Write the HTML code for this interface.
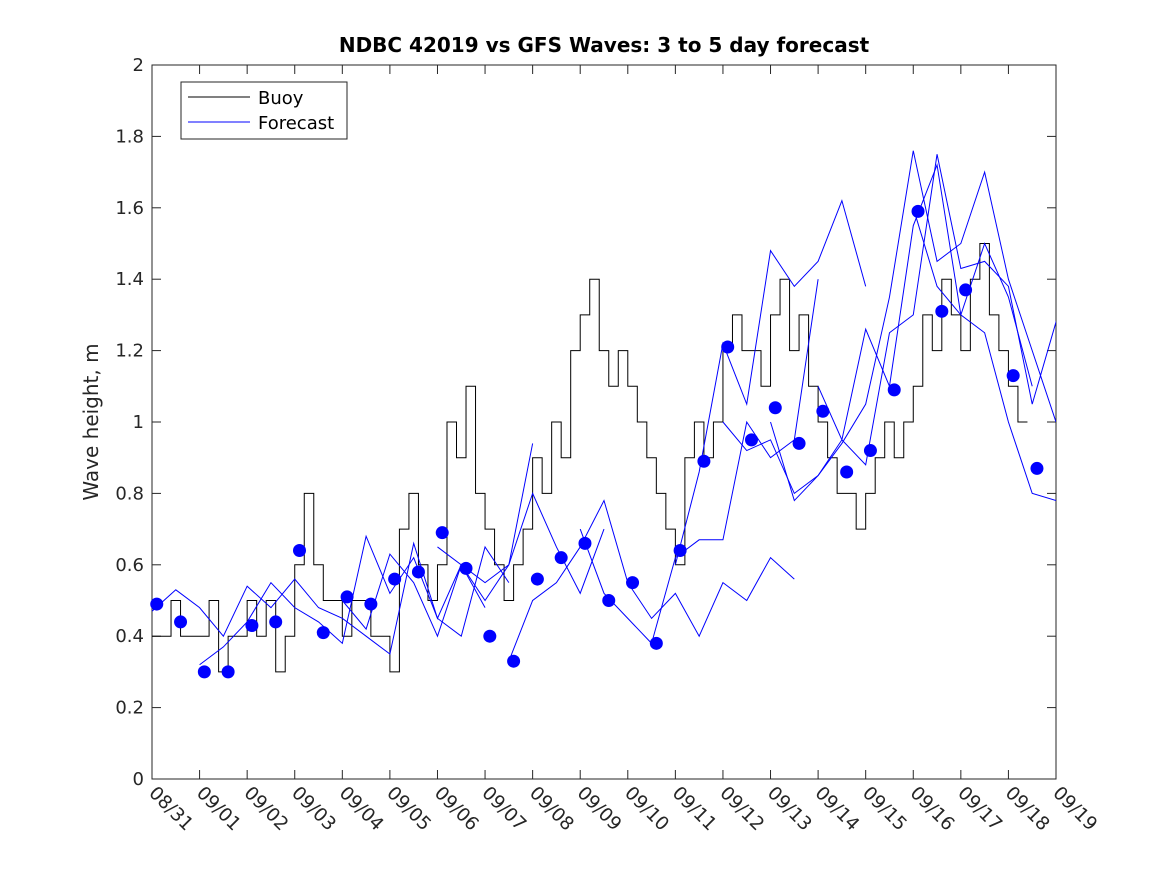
<!DOCTYPE html>
<html><head><meta charset="utf-8"><style>
body{margin:0;background:#fff;}
svg{display:block;font-family:"DejaVu Sans","Liberation Sans",sans-serif;}
</style></head><body>
<svg id="chart" width="1167" height="875"></svg>
<script>
const dateLabels=["08/31","09/01","09/02","09/03","09/04","09/05","09/06","09/07","09/08","09/09","09/10","09/11","09/12","09/13","09/14","09/15","09/16","09/17","09/18","09/19"];
const yTicks=[0,0.2,0.4,0.6,0.8,1,1.2,1.4,1.6,1.8,2];
const buoyStep=0.2;
const buoyValues=[0.4,0.4,0.5,0.4,0.4, 0.4,0.5,0.3,0.4,0.4, 0.5,0.4,0.5,0.3,0.4, 0.6,0.8,0.6,0.5,0.5, 0.4,0.5,0.5,0.4,0.4, 0.3,0.7,0.8,0.6,0.5, 0.6,1.0,0.9,1.1,0.8, 0.7,0.6,0.5,0.6,0.7, 0.9,0.8,1.0,0.9,1.2, 1.3,1.4,1.2,1.1,1.2, 1.1,1.0,0.9,0.8,0.7, 0.6,0.9,1.0,0.9,1.0, 1.2,1.3,1.2,1.2,1.1, 1.3,1.4,1.2,1.3,1.1, 1.0,0.9,0.8,0.8,0.7, 0.8,0.9,1.0,0.9,1.0, 1.1,1.3,1.2,1.4,1.3, 1.2,1.4,1.5,1.3,1.2, 1.1,1.0];
const dotDays=[0.1,0.6,1.1,1.6,2.1,2.6,3.1,3.6,4.1,4.6,5.1,5.6,6.1,6.6,7.1,7.6,8.1,8.6,9.1,9.6,10.1,10.6,11.1,11.6,12.1,12.6,13.1,13.6,14.1,14.6,15.1,15.6,16.1,16.6,17.1,18.1,18.6];
const dotValues=[0.49,0.44,0.30,0.30,0.43,0.44,0.64,0.41,0.51,0.49,0.56,0.58,0.69,0.59,0.40,0.33,0.56,0.62,0.66,0.50,0.55,0.38,0.64,0.89,1.21,0.95,1.04,0.94,1.03,0.86,0.92,1.09,1.59,1.31,1.37,1.13,0.87];
const fcStarts=[0,1,4,6,7.5,9,11,12,13,14,16];
const fcA=[0.47,0.53,0.48,0.40,0.54,0.48,0.56,0.48,0.45,0.40,0.35,0.66,0.45,0.60,0.48];
const fcB=[0.32,0.37,0.44,0.55,0.48,0.44,0.38,0.68,0.52,0.62,0.45,0.40,0.65,0.55];
const fcC=[0.5,0.42,0.63,0.55,0.40,0.60,0.55,0.60,0.94];
const fcD=[0.65,0.6,0.5,0.6,0.8,0.65,0.52,0.7];
const fcE=[0.33,0.50,0.55,0.65,0.78,0.55,0.45,0.52,0.40,0.55,0.50,0.62,0.56];
const fcF=[0.70,0.52,0.45,0.38,0.62,0.67,0.67,1.0,0.9,0.95,1.4];
const fcG=[0.60,0.86,1.22,1.05,1.48,1.38,1.45,1.62,1.38];
const fcH=[1.0,0.92,0.95,0.80,0.85,0.95,1.26,1.1,1.55,1.72,1.30,1.5,1.35,1.1];
const fcI=[1.0,0.78,0.85,0.94,1.05,1.35,1.76,1.45,1.5,1.70,1.4,1.2,1.0];
const fcJ=[1.1,0.95,0.88,1.25,1.30,1.75,1.43,1.45,1.38,1.05,1.28,1.08];
const fcK=[1.6,1.38,1.30,1.25,1.00,0.80,0.78];
const forecasts=[fcA,fcB,fcC,fcD,fcE,fcF,fcG,fcH,fcI,fcJ,fcK];

const L=152,R=1056,T=65,B=779;
const X=d=>L+(R-L)*d/19;
const Y=v=>B-(B-T)*v/2;
const svg=document.getElementById('chart');
const NS='http://www.w3.org/2000/svg';
function mk(tag,attrs,parent){const e=document.createElementNS(NS,tag);for(const k in attrs)e.setAttribute(k,attrs[k]);(parent||svg).appendChild(e);return e;}

const defs=mk('defs',{});
const cp=mk('clipPath',{id:'clip'},defs);
mk('rect',{x:L,y:T,width:R-L,height:B-T},cp);

const ax=mk('rect',{x:L,y:T,width:R-L,height:B-T,fill:'#fff',stroke:'#262626','stroke-width':1});



dateLabels.forEach((lab,i)=>{
  const x=X(i);
  mk('line',{x1:x,y1:B,x2:x,y2:B-9,stroke:'#262626'});
  mk('line',{x1:x,y1:T,x2:x,y2:T+9,stroke:'#262626'});
  const t=mk('text',{x:x-4,y:B+15,'font-size':18.5,fill:'#262626',transform:`rotate(45 ${x-4} ${B+15})`});
  t.textContent=lab;
  
  
});
yTicks.forEach(v=>{
  const y=Y(v);
  mk('line',{x1:L,y1:y,x2:L+9,y2:y,stroke:'#262626'});
  mk('line',{x1:R,y1:y,x2:R-9,y2:y,stroke:'#262626'});
  const t=mk('text',{x:L-8,y:y+6,'font-size':18,fill:'#262626','text-anchor':'end'});
  t.textContent=String(v);
  
  
});

const g=mk('g',{'clip-path':'url(#clip)'});
let d='';
buoyValues.forEach((v,i)=>{const x0=X(i*buoyStep),x1=X((i+1)*buoyStep),y=Y(v);d+=(i?'L':'M')+x0+' '+y+'L'+x1+' '+y;});
const bl=mk('path',{d:d,fill:'none',stroke:'#000','stroke-width':1},g);



forecasts.forEach((s,k)=>{
  const pts=s.map((v,i)=>X(fcStarts[k]+i*0.5)+','+Y(v)).join(' ');
  const p=mk('polyline',{points:pts,fill:'none',stroke:'#0000ff','stroke-width':1},g);
  
  
});
dotValues.forEach((v,i)=>{
  const c=mk('circle',{cx:X(dotDays[i]),cy:Y(v),r:6.5,fill:'#0000ff'});
  
  
});

const title=mk('text',{x:604,y:52,'font-size':20,'font-weight':'bold','text-anchor':'middle',fill:'#000'});
title.textContent='NDBC 42019 vs GFS Waves: 3 to 5 day forecast';


const yt=mk('text',{x:98,y:422,'font-size':20,'text-anchor':'middle',fill:'#262626',transform:'rotate(-90 98 422)'});
yt.textContent='Wave height, m';



const lg=mk('g',{});


mk('rect',{x:181,y:82,width:166,height:57,fill:'#fff',stroke:'#262626'},lg);
mk('line',{x1:188,y1:97,x2:250,y2:97,stroke:'#000'},lg);
mk('line',{x1:188,y1:122,x2:250,y2:122,stroke:'#0000ff'},lg);
const t1=mk('text',{x:258,y:104,'font-size':18,fill:'#000'},lg);t1.textContent='Buoy';


const t2=mk('text',{x:258,y:129,'font-size':18,fill:'#000'},lg);t2.textContent='Forecast';


</script>
</body></html>
